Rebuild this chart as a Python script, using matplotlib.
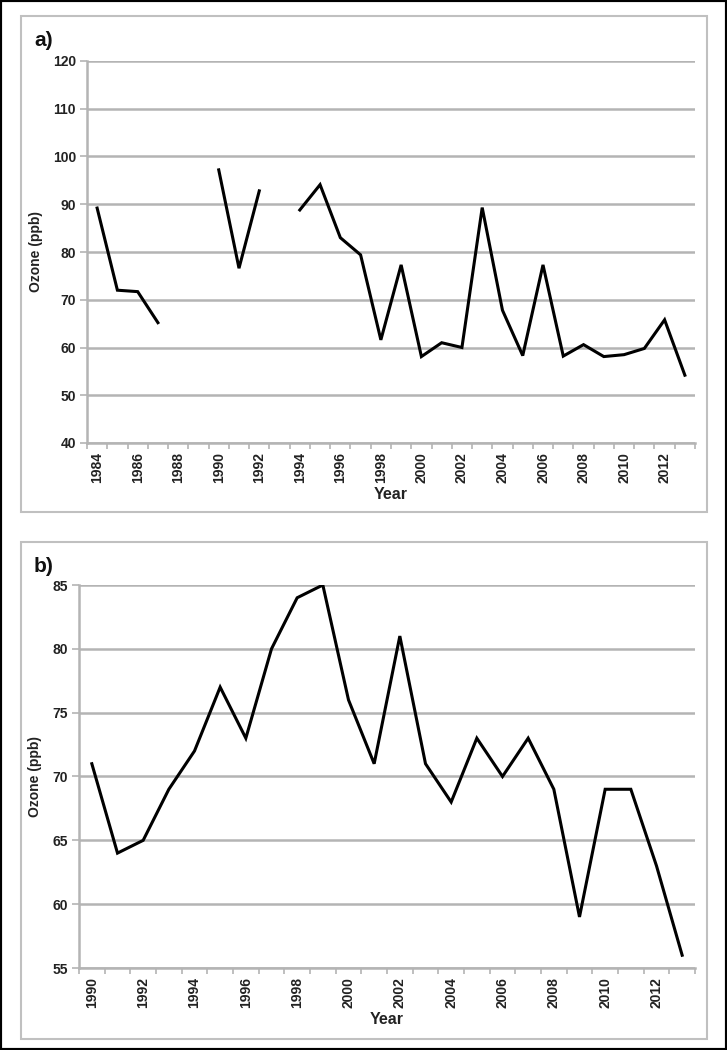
import numpy as np
import matplotlib
matplotlib.use("Agg")
import matplotlib.pyplot as plt
from matplotlib.patches import Rectangle

# panel a: annual ozone values, gaps where no data
years_a = list(range(1984, 2014))
ozone_a = [89.2, 72.0, 71.7, 65.2, np.nan, np.nan, 97.2, 76.6, 92.8, np.nan,
           88.8, 94.1, 83.0, 79.4, 61.6, 77.3, 58.1, 61.0, 60.0, 89.3,
           67.8, 58.3, 77.3, 58.2, 60.6, 58.1, 58.5, 59.8, 65.8, 54.2]

# panel b
years_b = list(range(1990, 2014))
ozone_b = [71, 64, 65, 69, 72, 77, 73, 80, 84, 85, 76, 71, 81, 71, 68, 73,
           70, 73, 69, 59, 69, 69, 63, 56]

yticks_a = [40, 50, 60, 70, 80, 90, 100, 110, 120]
yticks_b = [55, 60, 65, 70, 75, 80, 85]

plt.rcParams["font.family"] = ["Liberation Sans", "DejaVu Sans"]

GRID = "#b4b4b4"
TXT = "#222222"

W, H = 727, 1050
fig = plt.figure(figsize=(W / 100, H / 100), dpi=100)


def fx(px):
    return px / W


def fy(py):
    return 1 - py / H


def panel(rect, years, vals, yticks, label, box):
    x0, y0, x1, y1 = rect
    ax = fig.add_axes([fx(x0), fy(y1), fx(x1) - fx(x0), fy(y0) - fy(y1)])
    ax.plot(years, vals, color="black", lw=2.2, solid_joinstyle="miter")
    ax.set_xlim(years[0] - 0.5, years[-1] + 0.5)
    ax.set_ylim(yticks[0], yticks[-1])
    ax.set_yticks(yticks)
    ax.grid(axis="y", color=GRID, lw=1.8)
    ax.set_axisbelow(True)
    for s in ["top", "right"]:
        ax.spines[s].set_visible(False)
    for s in ["left", "bottom"]:
        ax.spines[s].set_color(GRID)
        ax.spines[s].set_linewidth(1.8)
    ax.set_xticks(years[::2])
    ax.set_xticklabels([str(y) for y in years[::2]], rotation=90)
    ax.set_xticks(np.arange(years[0] - 0.5, years[-1] + 1.0, 1.0), minor=True)
    ax.tick_params(axis="x", which="major", length=0, pad=6.5)
    ax.tick_params(axis="x", which="minor", length=4, width=1.2, color=GRID)
    ax.tick_params(axis="y", length=5, width=1.2, color=GRID, pad=3)
    for t in ax.get_xticklabels() + ax.get_yticklabels():
        t.set_fontweight("bold")
        t.set_fontsize(10)
        t.set_color(TXT)
    ax.set_xlabel("Year", fontsize=11.5, fontweight="bold", color=TXT,
                  labelpad=3)
    ax.set_ylabel("Ozone (ppb)", fontsize=10, fontweight="bold", color=TXT)
    bx0, by0, bx1, by1 = box
    fig.patches.append(Rectangle((fx(bx0), fy(by1)), fx(bx1) - fx(bx0),
                                 fy(by0) - fy(by1), transform=fig.transFigure,
                                 fill=False, ec="#c0c0c0", lw=1.5))
    fig.text(fx(bx0 + 13), fy(by0 + 24), label, fontsize=15,
             fontweight="bold", color="#111111", va="center")
    return ax


ax_a = panel((87, 61, 695, 443), years_a, ozone_a, yticks_a, "a)",
             (21, 16, 707, 512))
ax_a.yaxis.set_label_coords(-0.072, 0.5)

ax_b = panel((79, 585, 695, 968), years_b, ozone_b, yticks_b, "b)",
             (21, 542, 707, 1039))
ax_b.yaxis.set_label_coords(-0.060, 0.5)

# outer frame
fig.patches.append(Rectangle((0, 0), 1, 1, transform=fig.transFigure,
                             fill=False, ec="black", lw=3))

fig.savefig("out.png", dpi=100)
